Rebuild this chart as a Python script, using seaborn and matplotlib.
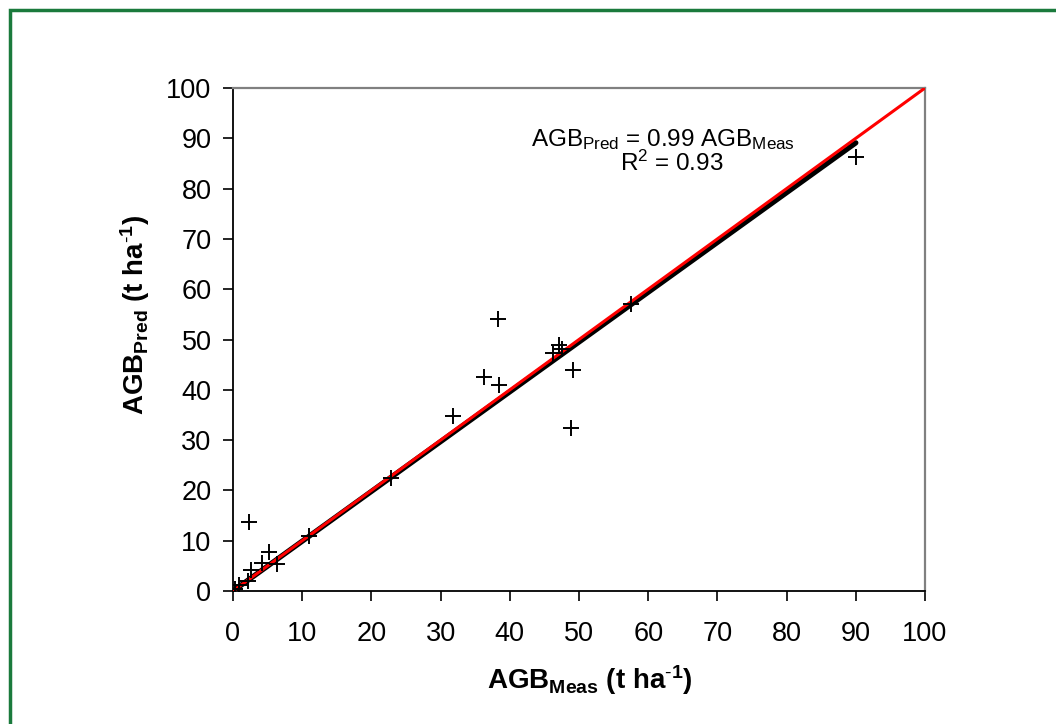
import matplotlib
matplotlib.use('Agg')
import matplotlib.pyplot as plt
import matplotlib.patches as mpatches
import numpy as np
import pandas as pd
import seaborn as sns

agb_meas = [90.0, 57.5, 47.1, 46.3, 47.5, 38.25, 36.2, 38.4, 31.8, 49.1, 48.8,
            22.8, 11.0, 2.3, 5.2, 4.2, 6.3, 2.55, 2.1, 0.87, 0.3]
agb_pred = [86.2, 57.0, 48.9, 47.3, 48.2, 54.0, 42.6, 40.9, 34.85, 43.9, 32.5,
            22.5, 11.0, 13.65, 7.8, 5.6, 5.4, 4.2, 2.05, 1.2, 0.4]
slope = 0.99
r2 = 0.93
ticks = list(range(0, 101, 10))

df = pd.DataFrame({'meas': agb_meas, 'pred': agb_pred})
fit_x = [0, max(agb_meas)]
fit = pd.DataFrame({'x': fit_x, 'y': [slope * v for v in fit_x]})
one = pd.DataFrame({'x': [0, 100], 'y': [0, 100]})

sns.set_style('white')
plt.rcParams['font.family'] = ['Liberation Sans', 'DejaVu Sans']
plt.rcParams['mathtext.fontset'] = 'custom'
plt.rcParams['mathtext.rm'] = 'Liberation Sans'
plt.rcParams['mathtext.it'] = 'Liberation Sans:italic'
plt.rcParams['mathtext.bf'] = 'Liberation Sans:bold'
for k in ['text.color', 'axes.labelcolor', 'xtick.color', 'ytick.color']:
    plt.rcParams[k] = 'black'

fig = plt.figure(figsize=(10.56, 7.24), dpi=100)
ax = fig.add_axes([233 / 1056, 1 - 591 / 724, 692 / 1056, 503 / 724])

sns.lineplot(data=fit, x='x', y='y', ax=ax, color='black', linewidth=3.8, zorder=2)
sns.lineplot(data=one, x='x', y='y', ax=ax, color='#ff0000', linewidth=2.2, zorder=3)
sns.scatterplot(data=df, x='meas', y='pred', ax=ax, marker='+', s=130,
                color='black', linewidth=1.4, zorder=4)

ax.set_xlim(0, 100)
ax.set_ylim(0, 100)
ax.set_xticks(ticks)
ax.set_yticks(ticks)
ax.tick_params(axis='both', labelsize=19.5, length=7.5, width=1.2, direction='out',
               bottom=True, left=True)
ax.tick_params(axis='x', pad=14)
ax.tick_params(axis='y', pad=8)
for s in ['left', 'bottom']:
    ax.spines[s].set_color('black')
    ax.spines[s].set_linewidth(1.3)
for s in ['top', 'right']:
    ax.spines[s].set_color('#808080')
    ax.spines[s].set_linewidth(1.6)

ax.set_xlabel(r'AGB$_{\mathbf{Meas}}$ (t ha$^{\mathbf{\text{-}1}}$)', fontsize=20,
              fontweight='bold')
ax.set_ylabel(r'AGB$_{\mathbf{Pred}}$ (t ha$^{\mathbf{\text{-}1}}$)', fontsize=20,
              fontweight='bold')
ax.xaxis.set_label_coords(0.515, -0.143)
ax.yaxis.set_label_coords(-0.117, 0.549)

ax.text(62.1, 89.7, r'AGB$_{\mathrm{Pred}}$ = %.2f AGB$_{\mathrm{Meas}}$' % slope,
        fontsize=17.5, ha='center', va='center')
ax.text(63.4, 85.0, r'R$^{2}$ = %.2f' % r2, fontsize=17.5, ha='center', va='center')

# green frame around the chart area
fig.patches.append(mpatches.Rectangle((10 / 1056, -0.05), 1.1, 1 - 10 / 724 + 0.05,
                                      transform=fig.transFigure, fill=False,
                                      edgecolor='#1a7a3c', linewidth=2.5))

fig.savefig('out.png', dpi=100)
